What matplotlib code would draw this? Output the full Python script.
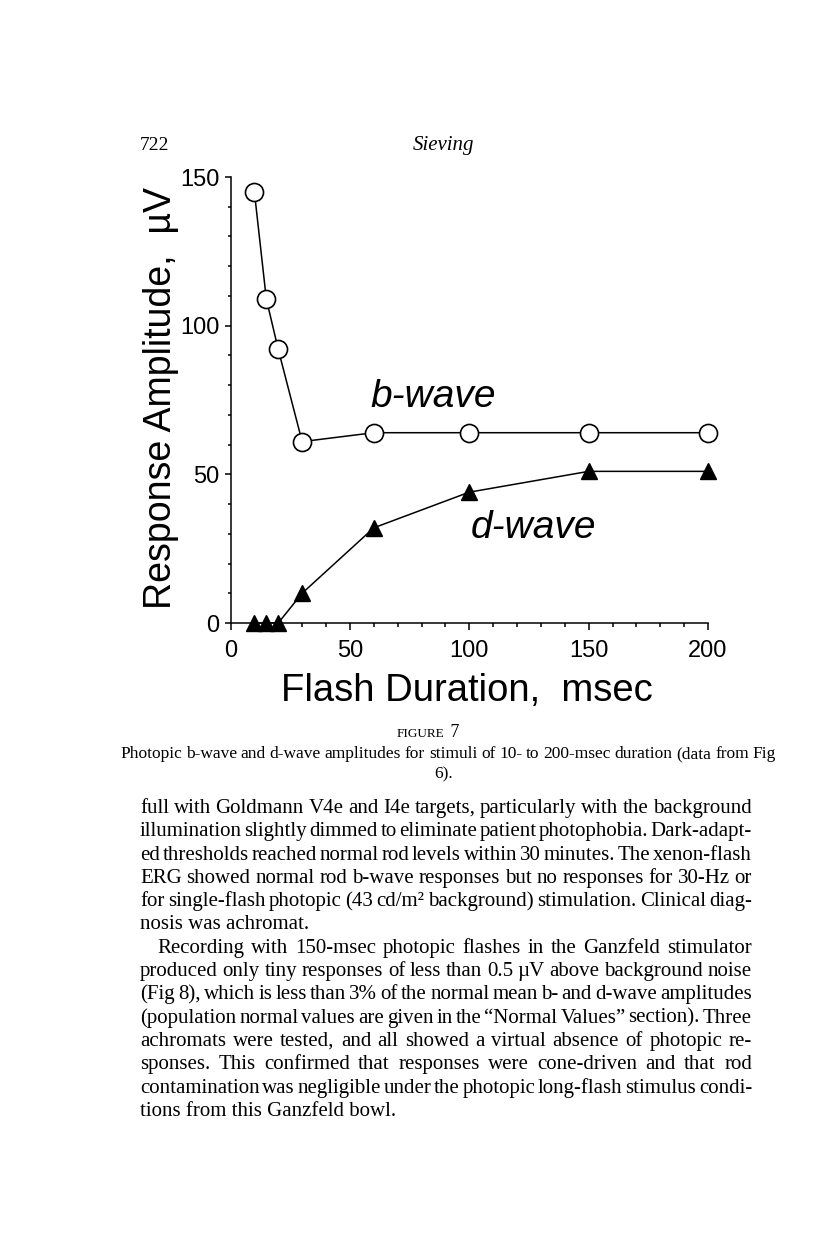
import matplotlib
matplotlib.use("Agg")
import matplotlib.pyplot as plt
from matplotlib.ticker import MultipleLocator

# data
duration = [10, 15, 20, 30, 60, 100, 150, 200]
b_wave = [145, 109, 92, 61, 64, 64, 64, 64]
d_wave = [0, 0, 0, 10, 32, 44, 51, 51]

x_ticks = [0, 50, 100, 150, 200]
y_ticks = [0, 50, 100, 150]

caption_line = ("Photopic b-wave and d-wave amplitudes for stimuli of 10- to "
                "200-msec duration (data from Fig")
caption_end = "6)."

body_lines = [
    "full with Goldmann V4e and I4e targets, particularly with the background",
    "illumination slightly dimmed to eliminate patient photophobia. Dark-adapt-",
    "ed thresholds reached normal rod levels within 30 minutes. The xenon-flash",
    "ERG showed normal rod b-wave responses but no responses for 30-Hz or",
    "for single-flash photopic (43 cd/m² background) stimulation. Clinical diag-",
    "nosis was achromat.",
    "Recording with 150-msec photopic flashes in the Ganzfeld stimulator",
    "produced only tiny responses of less than 0.5 µV above background noise",
    "(Fig 8), which is less than 3% of the normal mean b- and d-wave amplitudes",
    "(population normal values are given in the “Normal Values” section). Three",
    "achromats were tested, and all showed a virtual absence of photopic re-",
    "sponses. This confirmed that responses were cone-driven and that rod",
    "contamination was negligible under the photopic long-flash stimulus condi-",
    "tions from this Ganzfeld bowl.",
]
para_end = {5, 13}
para_start = {6}

W, H = 816, 1246
fig = plt.figure(figsize=(W / 100, H / 100), dpi=100)
sans = ["Liberation Sans", "DejaVu Sans"]
serif = ["Liberation Serif", "DejaVu Serif"]


def fx(x):
    return x / W


def fy(y):
    return 1 - y / H


# page header
fig.text(fx(140), fy(150), "722", family=serif, fontsize=14, va="baseline")
fig.text(fx(444), fy(150), "Sieving", family=serif, fontsize=15,
         style="italic", ha="center", va="baseline")

# chart
ax = fig.add_axes([fx(230.5), fy(623), fx(708) - fx(230.5), fy(177) - fy(623)])
ax.plot(duration, b_wave, color="black", lw=1.1, marker="o", ms=13,
        mfc="white", mec="black", mew=1.2, clip_on=False, zorder=3)
ax.plot(duration, d_wave, color="black", lw=1.1, marker="^", ms=12,
        mfc="black", mec="black", clip_on=False, zorder=3)
ax.set_xlim(0, 200)
ax.set_ylim(0, 150)
ax.spines["top"].set_visible(False)
ax.spines["right"].set_visible(False)
ax.spines["left"].set_linewidth(1.1)
ax.spines["bottom"].set_linewidth(1.1)
ax.set_xticks(x_ticks)
ax.set_yticks(y_ticks)
ax.xaxis.set_minor_locator(MultipleLocator(10))
ax.yaxis.set_minor_locator(MultipleLocator(10))
ax.tick_params(axis="x", which="major", length=5, width=1.1, pad=7,
               labelsize=17)
ax.tick_params(axis="x", which="minor", length=3, width=1.1)
ax.tick_params(axis="y", which="major", length=4, width=1.1, pad=4,
               labelsize=17)
ax.tick_params(axis="y", which="minor", length=2.5, width=1.1)
for lab in ax.get_xticklabels() + ax.get_yticklabels():
    lab.set_family(sans)

ax.text(85, 76, "b-wave", family=sans, fontsize=28, style="italic",
        ha="center", va="center")
ax.text(127, 32, "d-wave", family=sans, fontsize=28, style="italic",
        ha="center", va="center")

fig.text(fx(161), fy(398), "Response Amplitude,  µV", family=sans,
         fontsize=27, rotation=90, ha="center", va="center")
fig.text(fx(467), fy(701), "Flash Duration,  msec", family=sans,
         fontsize=27.5, ha="center", va="baseline")

# caption
fig.text(fx(444), fy(737), "FIGURE", family=serif, fontsize=9.5,
         ha="right", va="baseline")
fig.text(fx(446), fy(737), " 7", family=serif, fontsize=13,
         ha="left", va="baseline")

renderer = fig.canvas.get_renderer()


def justify(line, x0, x1, y, size, indent=0):
    words = line.split()
    texts = [fig.text(0, fy(y), w, family=serif, fontsize=size,
                      va="baseline") for w in words]
    widths = [t.get_window_extent(renderer).width for t in texts]
    gap = (x1 - x0 - indent - sum(widths)) / (len(words) - 1)
    x = x0 + indent
    for t, w in zip(texts, widths):
        t.set_x(fx(x))
        x += w + gap


justify(caption_line, 120, 776, 758, 12.5)
fig.text(fx(444), fy(778), caption_end, family=serif, fontsize=12.5,
         ha="center", va="baseline")

y = 813
for i, line in enumerate(body_lines):
    indent = 17 if i in para_start else 0
    if i in para_end:
        fig.text(fx(140 + indent), fy(y), line, family=serif, fontsize=15,
                 va="baseline")
    else:
        justify(line, 140, 752, y, 15, indent)
    y += 23.3

fig.savefig("out.png", dpi=100)
